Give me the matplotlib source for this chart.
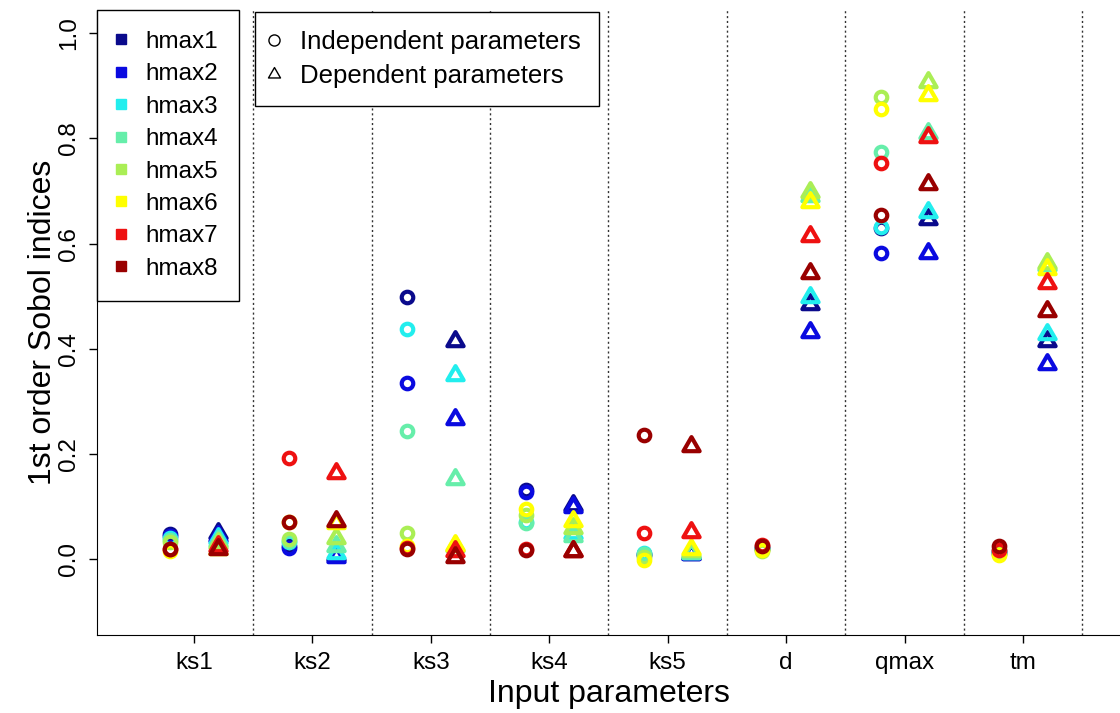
import matplotlib
matplotlib.use("Agg")
import matplotlib.pyplot as plt
from matplotlib.lines import Line2D
from matplotlib.path import Path

plt.rcParams['font.family'] = ['Liberation Sans', 'DejaVu Sans']

params = ['ks1', 'ks2', 'ks3', 'ks4', 'ks5', 'd', 'qmax', 'tm']
series = ['hmax1', 'hmax2', 'hmax3', 'hmax4', 'hmax5', 'hmax6', 'hmax7', 'hmax8']
colors = ['#0a0a8c', '#0a0ae0', '#22eeee', '#66eeaa', '#aaee55', '#ffff00', '#ee1111', '#990000']

# first order indices, independent inputs (one row per hmax)
indep = [
    [0.048, 0.025, 0.499, 0.131, 0.010, 0.020, 0.630, 0.015],
    [0.045, 0.022, 0.335, 0.128, 0.008, 0.022, 0.582, 0.012],
    [0.040, 0.033, 0.438, 0.070, 0.012, 0.022, 0.631, 0.012],
    [0.037, 0.035, 0.243, 0.068, 0.010, 0.020, 0.775, 0.015],
    [0.033, 0.038, 0.050, 0.085, 0.005, 0.015, 0.878, 0.010],
    [0.015, 0.070, 0.025, 0.095, -0.002, 0.018, 0.855, 0.008],
    [0.020, 0.193, 0.022, 0.020, 0.050, 0.028, 0.753, 0.018],
    [0.020, 0.070, 0.020, 0.018, 0.236, 0.025, 0.655, 0.025],
]

# first order indices, dependent inputs
dep = [
    [0.050, 0.008, 0.415, 0.104, 0.010, 0.485, 0.647, 0.415],
    [0.045, 0.005, 0.266, 0.100, 0.010, 0.431, 0.583, 0.371],
    [0.040, 0.012, 0.350, 0.050, 0.012, 0.498, 0.660, 0.428],
    [0.035, 0.025, 0.152, 0.045, 0.012, 0.690, 0.810, 0.560],
    [0.030, 0.040, 0.025, 0.060, 0.015, 0.698, 0.907, 0.564],
    [0.020, 0.068, 0.028, 0.072, 0.020, 0.679, 0.882, 0.552],
    [0.025, 0.164, 0.015, 0.015, 0.051, 0.615, 0.802, 0.526],
    [0.020, 0.072, 0.005, 0.015, 0.215, 0.545, 0.714, 0.472],
]

# R-style open triangle (pch = 2), centred on the point
tri = Path([(0, 1), (-0.866, -0.5), (0.866, -0.5), (0, 1)],
           [Path.MOVETO, Path.LINETO, Path.LINETO, Path.CLOSEPOLY])

W, H = 1120, 713
fig = plt.figure(figsize=(W / 100, H / 100), dpi=100)
ax = fig.add_axes([97 / W, 1 - 635 / H, 1 - 97 / W, 625 / H])

x = list(range(1, len(params) + 1))
for col, vals in zip(colors, indep):
    ax.plot([i - 0.2 for i in x], vals, ls='none', marker='o', ms=8.3,
            mfc='none', mec=col, mew=3.0, zorder=3)
for col, vals in zip(colors, dep):
    ax.plot([i + 0.2 for i in x], vals, ls='none', marker=tri, ms=13.5,
            mfc='none', mec=col, mew=3.0, zorder=3)

for i in range(1, len(params) + 1):
    ax.axvline(i + 0.5, color='#333333', lw=1, ls=(0, (1.5, 2)), zorder=1)

ax.set_xlim(0.18, 8.82)
ax.set_ylim(-0.144, 1.044)
ax.set_xticks(x)
ax.set_xticklabels(params, fontsize=17.5)
ax.set_yticks([0.0, 0.2, 0.4, 0.6, 0.8, 1.0])
ax.set_yticklabels(['0.0', '0.2', '0.4', '0.6', '0.8', '1.0'], fontsize=17.5,
                   rotation=90, va='center')
ax.tick_params(length=6, width=1, pad=6)
ax.spines['top'].set_visible(False)
ax.spines['right'].set_visible(False)
ax.set_xlabel('Input parameters', fontsize=23, labelpad=4)
ax.set_ylabel('1st order Sobol indices', fontsize=23, labelpad=0)

h1 = [Line2D([], [], ls='none', marker='s', ms=7.5, mfc=c, mec=c) for c in colors]
leg1 = ax.legend(h1, series, loc='upper left', bbox_to_anchor=(0, 1),
                 borderaxespad=0, fontsize=17.5, frameon=True, fancybox=False,
                 edgecolor='black', framealpha=1, handlelength=0.3,
                 handletextpad=0.85, labelspacing=0.43, borderpad=0.85)
leg1.get_frame().set_linewidth(1)
ax.add_artist(leg1)

h2 = [Line2D([], [], ls='none', marker='o', ms=8, mfc='none', mec='black', mew=1),
      Line2D([], [], ls='none', marker=tri, ms=10, mfc='none', mec='black', mew=1)]
leg2 = ax.legend(h2, ['Independent parameters', 'Dependent parameters'],
                 loc='upper left', bbox_to_anchor=((255 - 97) / 1023, 1 - 2 / 625),
                 borderaxespad=0, fontsize=18.5, frameon=True, fancybox=False,
                 edgecolor='black', framealpha=1, handlelength=0.1,
                 handletextpad=0.95, labelspacing=0.4, borderpad=0.7)
leg2.get_frame().set_linewidth(1)

fig.savefig('out.png', dpi=100)
